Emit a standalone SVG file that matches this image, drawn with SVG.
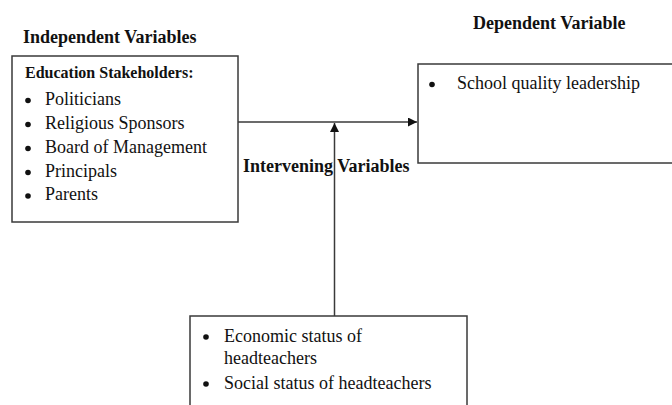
<svg xmlns="http://www.w3.org/2000/svg" width="672" height="405" viewBox="0 0 672 405">
<style>
.box{fill:#fff;stroke:#3a3a3a;stroke-width:1.5}
.conn{fill:none;stroke:#3a3a3a;stroke-width:1.5}
.t{font-family:"Liberation Serif","Times New Roman",serif;font-size:18px;fill:#111}
.b{font-family:"Liberation Serif","Times New Roman",serif;font-size:18px;font-weight:bold;fill:#111}
.sb{font-family:"Liberation Serif","Times New Roman",serif;font-size:16px;font-weight:bold;fill:#111}
.dot{fill:#111}
</style>
<defs>
<marker id="ah" viewBox="0 0 10 10" refX="10" refY="5" markerWidth="9" markerHeight="9" markerUnits="userSpaceOnUse" orient="auto">
<path d="M0,0 L10,5 L0,10 z" fill="#111"/>
</marker>
</defs>
<text class="b" x="23" y="43">Independent Variables</text>
<text class="b" x="473" y="29">Dependent Variable</text>
<text class="b" x="243" y="172">Intervening Variables</text>
<g id="connectors">
<line class="conn" x1="238" y1="122" x2="417" y2="122" marker-end="url(#ah)"/>
<line class="conn" x1="334.5" y1="316" x2="334.5" y2="123" marker-end="url(#ah)"/>
</g>
<g id="independent">
<rect class="box" x="12" y="56" width="226" height="166"/>
<text class="sb" x="25" y="78">Education Stakeholders:</text>
<circle class="dot" cx="28" cy="100.5" r="2.8"/>
<text class="t" x="45" y="104.5">Politicians</text>
<circle class="dot" cx="28" cy="124.5" r="2.8"/>
<text class="t" x="45" y="128.5">Religious Sponsors</text>
<circle class="dot" cx="28" cy="148.5" r="2.8"/>
<text class="t" x="45" y="152.5">Board of Management</text>
<circle class="dot" cx="28" cy="172.5" r="2.8"/>
<text class="t" x="45" y="176.5">Principals</text>
<circle class="dot" cx="28" cy="196" r="2.8"/>
<text class="t" x="45" y="200">Parents</text>
</g>
<g id="dependent">
<rect class="box" x="418" y="64" width="270" height="99"/>
<circle class="dot" cx="432" cy="84.5" r="2.8"/>
<text class="t" x="457" y="89">School quality leadership</text>
</g>
<g id="intervening">
<rect class="box" x="190" y="316" width="277" height="110"/>
<circle class="dot" cx="206" cy="337" r="2.8"/>
<text class="t" x="224" y="342">Economic status of</text>
<text class="t" x="224" y="364">headteachers</text>
<circle class="dot" cx="206" cy="384" r="2.8"/>
<text class="t" x="224" y="389">Social status of headteachers</text>
</g>
</svg>
